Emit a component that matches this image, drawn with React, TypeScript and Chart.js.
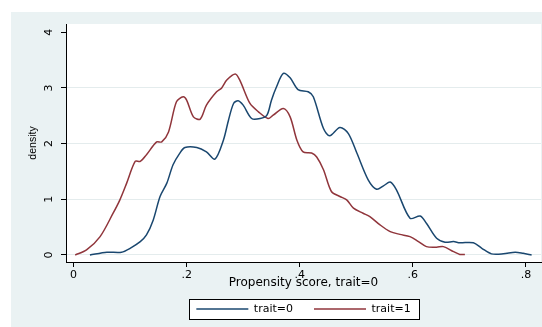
import React, { useEffect, useRef } from "react";
import { Chart, registerables } from "chart.js";

Chart.register(...registerables);

// Kernel density of propensity score, trait=0 (blue)
const trait0X = [0.029, 0.059, 0.085, 0.100, 0.118, 0.129, 0.141, 0.153, 0.165, 0.176, 0.188, 0.197, 0.218, 0.235, 0.250, 0.265, 0.274, 0.283, 0.291, 0.300, 0.315, 0.330, 0.342, 0.350, 0.359, 0.371, 0.383, 0.397, 0.415, 0.424, 0.442, 0.453, 0.471, 0.486, 0.501, 0.521, 0.536, 0.548, 0.560, 0.571, 0.595, 0.613, 0.624, 0.642, 0.657, 0.672, 0.683, 0.707, 0.722, 0.739, 0.760, 0.781, 0.795, 0.810];
const trait0Y = [0, 0.05, 0.05, 0.12, 0.24, 0.36, 0.63, 1.05, 1.29, 1.62, 1.83, 1.93, 1.93, 1.85, 1.72, 2.06, 2.42, 2.72, 2.77, 2.69, 2.45, 2.45, 2.51, 2.78, 3.02, 3.26, 3.18, 2.97, 2.93, 2.84, 2.27, 2.14, 2.29, 2.18, 1.83, 1.35, 1.18, 1.24, 1.31, 1.17, 0.66, 0.70, 0.57, 0.30, 0.23, 0.24, 0.22, 0.22, 0.12, 0.02, 0.02, 0.05, 0.03, 0];

// trait=1 (red)
const trait1X = [0.003, 0.023, 0.047, 0.070, 0.082, 0.094, 0.109, 0.118, 0.129, 0.147, 0.156, 0.168, 0.182, 0.194, 0.200, 0.212, 0.224, 0.235, 0.253, 0.262, 0.271, 0.286, 0.294, 0.312, 0.327, 0.344, 0.353, 0.371, 0.383, 0.395, 0.406, 0.421, 0.430, 0.442, 0.456, 0.471, 0.483, 0.495, 0.512, 0.524, 0.542, 0.560, 0.577, 0.595, 0.610, 0.624, 0.642, 0.654, 0.672, 0.683, 0.692];
const trait1Y = [0, 0.09, 0.33, 0.75, 0.99, 1.29, 1.68, 1.68, 1.80, 2.03, 2.03, 2.21, 2.75, 2.84, 2.78, 2.48, 2.44, 2.69, 2.93, 3.0, 3.14, 3.25, 3.14, 2.72, 2.57, 2.45, 2.51, 2.63, 2.48, 2.06, 1.85, 1.83, 1.76, 1.53, 1.14, 1.05, 0.99, 0.84, 0.75, 0.69, 0.54, 0.42, 0.37, 0.33, 0.24, 0.15, 0.14, 0.15, 0.06, 0.01, 0.01];

const seriesLabels = ["trait=0", "trait=1"];
const xTickValues = [0, 0.2, 0.4, 0.6, 0.8];
const xTickLabels = ["0", ".2", ".4", ".6", ".8"];
const yTickValues = [0, 1, 2, 3, 4];
const yTickLabels = ["0", "1", "2", "3", "4"];
const xTitle = "Propensity score, trait=0";
const yTitle = "density";

const BLUE = "#1a476f";
const RED = "#90353b";
const BG = "#eaf2f3";

export default function App() {
  const ref = useRef<HTMLCanvasElement | null>(null);

  useEffect(() => {
    if (!ref.current) return;

    const bgPlugin = {
      id: "stataBg",
      beforeDraw(chart: any) {
        const { ctx, chartArea, width, height } = chart;
        ctx.save();
        ctx.fillStyle = "#ffffff";
        ctx.fillRect(0, 0, width, height);
        ctx.fillStyle = BG;
        ctx.fillRect(11, 12, width - 11, height - 12);
        ctx.fillStyle = "#ffffff";
        ctx.fillRect(chartArea.left, chartArea.top, chartArea.right - chartArea.left, chartArea.bottom - chartArea.top);
        const hb = chart.legend && chart.legend.legendHitBoxes;
        if (hb && hb.length) {
          const first = hb[0];
          const last = hb[hb.length - 1];
          const cy = first.top + first.height / 2;
          const l = Math.round(first.left - 7) + 0.5;
          const r = Math.round(last.left + last.width + 8) + 0.5;
          const t = Math.round(cy - 10) + 0.5;
          const b = Math.round(cy + 10) + 0.5;
          ctx.fillStyle = "#ffffff";
          ctx.fillRect(l, t, r - l, b - t);
          ctx.strokeStyle = "#000000";
          ctx.lineWidth = 1;
          ctx.strokeRect(l, t, r - l, b - t);
        }
        ctx.restore();
      },
    };

    const chart = new Chart(ref.current, {
      type: "line",
      data: {
        datasets: [
          {
            label: seriesLabels[0],
            data: trait0X.map((x, i) => ({ x, y: trait0Y[i] })),
            borderColor: BLUE,
            backgroundColor: BLUE,
            borderWidth: 1.5,
            pointRadius: 0,
            tension: 0.3,
            fill: false,
          },
          {
            label: seriesLabels[1],
            data: trait1X.map((x, i) => ({ x, y: trait1Y[i] })),
            borderColor: RED,
            backgroundColor: RED,
            borderWidth: 1.5,
            pointRadius: 0,
            tension: 0.3,
            fill: false,
          },
        ],
      },
      options: {
        animation: false,
        responsive: false,
        devicePixelRatio: 1,
        layout: { padding: { left: 11, top: 24, right: 1, bottom: 2.5 } },
        plugins: {
          legend: {
            position: "bottom",
            fullSize: false,
            labels: {
              usePointStyle: true,
              pointStyle: "line",
              pointStyleWidth: 52,
              padding: 21,
              color: "#000",
              font: { family: "DejaVu Sans", size: 11 },
            },
          },
          tooltip: { enabled: false },
        },
        scales: {
          x: {
            type: "linear",
            min: -0.0133,
            max: 0.8266,
            afterBuildTicks: (s: any) => {
              s.ticks = xTickValues.map((v) => ({ value: v }));
            },
            afterFit: (s: any) => {
              s.height = 20.5;
            },
            ticks: {
              autoSkip: false,
              maxRotation: 0,
              padding: 2,
              color: "#000",
              font: { family: "DejaVu Sans", size: 11 },
              callback: (v: any) => {
                const i = xTickValues.findIndex((t) => Math.abs(t - Number(v)) < 1e-9);
                return i >= 0 ? xTickLabels[i] : "";
              },
            },
            grid: { drawOnChartArea: false, drawTicks: true, tickLength: 5, tickColor: "#000", tickWidth: 1 },
            border: { display: true, color: "#000", width: 1 },
            title: {
              display: true,
              text: xTitle,
              color: "#000",
              font: { family: "DejaVu Sans", size: 12 },
              padding: { top: 0, bottom: -7.55 },
            },
          },
          y: {
            type: "linear",
            min: -0.126,
            max: 4.147,
            afterBuildTicks: (s: any) => {
              s.ticks = yTickValues.map((v) => ({ value: v }));
            },
            afterFit: (s: any) => {
              s.width = 55;
            },
            ticks: {
              autoSkip: false,
              minRotation: 90,
              maxRotation: 90,
              crossAlign: "center",
              padding: 8.5,
              color: "#000",
              font: { family: "DejaVu Sans", size: 11 },
              callback: (v: any) => {
                const i = yTickValues.indexOf(Number(v));
                return i >= 0 ? yTickLabels[i] : "";
              },
            },
            grid: {
              color: (c: any) => (c.tick && c.tick.value === 4 ? "rgba(0,0,0,0)" : "#e4eced"),
              lineWidth: 1,
              drawTicks: true,
              tickLength: 5,
              tickColor: "#000",
              tickWidth: 1,
            },
            border: { display: true, color: "#000", width: 1 },
            title: {
              display: true,
              text: yTitle,
              color: "#000",
              font: { family: "Liberation Sans", size: 10.5 },
              padding: { top: 15.7, bottom: 0 },
            },
          },
        },
      },
      plugins: [bgPlugin],
    } as any);

    return () => chart.destroy();
  }, []);

  return (
    <div style={{ position: "fixed", left: 0, top: 0, width: 542, height: 327 }}>
      <canvas ref={ref} width={542} height={327} style={{ width: 542, height: 327, display: "block" }} />
    </div>
  );
}
